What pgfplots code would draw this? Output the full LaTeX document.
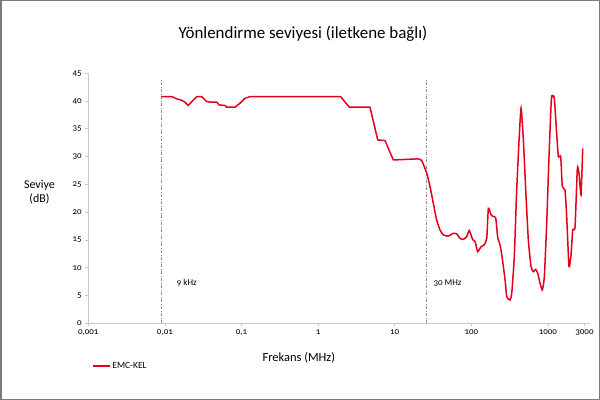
\documentclass[border=0pt]{standalone}
\usepackage{fontspec}
\setmainfont{Carlito}[Numbers=OldStyle]
\usepackage{pgfplots}
\pgfplotsset{compat=1.18}
\definecolor{emcred}{HTML}{E2001A}
\definecolor{axgray}{HTML}{C8C8C8}
\definecolor{vgray}{HTML}{8C8C8C}
\definecolor{framegray}{HTML}{7A7A7A}

\begin{document}
\begin{tikzpicture}
\useasboundingbox (0bp,0bp) rectangle (600bp,400bp);
\draw[line width=1.5bp, draw=framegray] (0.75bp,0.75bp) rectangle (599.25bp,399.25bp);
\node[font=\fontsize{17}{19}\selectfont] at (303bp,366bp) {Yönlendirme seviyesi (iletkene bağlı)};
\begin{axis}[
  at={(88.3bp,76.7bp)}, anchor=south west,
  scale only axis, width=501.3bp, height=250bp,
  xmode=log, xmin=0.001, xmax=3500, ymin=0, ymax=45,
  axis x line*=bottom, axis y line*=left,
  axis line style={draw=axgray, line width=1bp},
  xtick={0.001,0.01,0.1,1,10,100,1000,3000},
  xticklabels={{0,001},{0,01},{0,1},1,10,100,1000,3000},
  ytick={0,5,...,45},
  xminorticks=false,
  tick style={draw=axgray, line width=0.8bp},
  tick align=outside, major tick length=3bp,
  ticklabel style={font=\fontsize{9}{10}\selectfont},
  /pgf/number format/assume math mode=true,
  clip=false,
  xlabel={Frekans (MHz)},
  ylabel={Seviye\\(dB)},
  every axis x label/.style={at={(axis description cs:0.42,-0.139)}, anchor=center, font=\fontsize{12.5}{14}\selectfont},
  every axis y label/.style={at={(axis description cs:-0.0975,0.525)}, anchor=center, align=center, font=\fontsize{12}{13.5}\selectfont},
  legend style={at={(axis description cs:0.001,-0.17)}, anchor=west, draw=none, fill=none, font=\fontsize{9.5}{11}\selectfont},
  legend cell align=left,
  legend image code/.code={\draw[#1] (0bp,0bp) -- (17bp,0bp);},
]
% markers for 9 kHz and 30 MHz
\addplot[vgray, line width=0.8bp, dash pattern=on 3bp off 1.5bp on 1bp off 1.5bp, forget plot] coordinates {(0.009,0) (0.009,43.8)};
\addplot[vgray, line width=0.8bp, dash pattern=on 3bp off 1.5bp on 1bp off 1.5bp, forget plot] coordinates {(26.3,0) (26.3,43.8)};
\node[anchor=west, inner sep=0pt, font=\fontsize{9}{10}\selectfont] at (axis cs:0.01426,7.25) {9 kHz};
\node[anchor=west, inner sep=0pt, font=\fontsize{9}{10}\selectfont] at (axis cs:31.9,7.25) {30 MHz};

% EMC-KEL, low-frequency part (stepped)
\addplot[emcred, line width=1.5bp, line join=round] coordinates {
 (0.009,40.8) (0.0123,40.8) (0.01426,40.4) (0.0162,40.2) (0.0183,39.8) (0.0202,39.2)
 (0.0228,40.0) (0.026,40.8) (0.0302,40.8) (0.0352,39.9) (0.0408,39.8) (0.0475,39.8)
 (0.0513,39.3) (0.0609,39.2) (0.0641,38.9) (0.0822,38.9) (0.0955,39.6) (0.111,40.5)
 (0.129,40.8) (1.97,40.8) (2.55,38.9) (4.76,38.9) (6.0,33.0) (7.46,32.9) (9.59,29.4)
 (20.3,29.6)
};
\addlegendentry{EMC-KEL}
% EMC-KEL, high-frequency part (smoothed)
\addplot[emcred, line width=1.5bp, smooth, tension=0.3, forget plot] coordinates {
 (20.3,29.6) (22.5,29.3) (26.2,27.0) (28.9,24.6) (31.9,21.6) (35.3,18.6) (39.0,16.8)
 (43.1,15.9) (50.1,15.7) (58.2,16.2) (64.4,16.1) (71.1,15.3) (78.6,15.1) (87.0,15.6)
 (94.1,16.7) (104,15.1) (112,14.7) (121,12.9) (134,13.8) (147,14.1) (159,15.3)
 (167,20.7) (181,19.5) (194,19.2) (208,19.0) (221,15.5) (237,14.1) (250,12.3)
 (276,7.8) (290,4.8) (320,4.2) (337,5.4) (364,12.0) (391,24.0) (420,33.0) (446,38.7)
 (478,33.0) (513,24.0) (555,15.0) (602,10.2) (645,9.3) (693,9.7) (736,9.0) (789,7.2)
 (845,6.0) (898,8.4) (964,18.0) (1033,30.0) (1110,40.5) (1166,40.8) (1212,40.6) (1303,34.0)
 (1368,30.0) (1469,30.0) (1541,24.6) (1671,24.0) (1758,19.2) (1884,10.2) (2003,12.3)
 (2108,16.8) (2259,17.3) (2421,27.9) (2548,27.0) (2705,23.1) (2845,31.5)
};
\end{axis}
\end{tikzpicture}
\end{document}
